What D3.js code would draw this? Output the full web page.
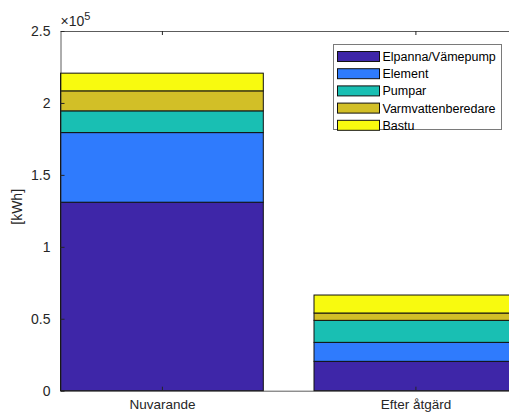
<!DOCTYPE html>
<html>
<head>
<meta charset="utf-8">
<script src="https://cdn.jsdelivr.net/npm/d3@7"></script>
<style>
  html, body { margin: 0; padding: 0; background: #fff; overflow: hidden; }
  svg { display: block; font-family: "Liberation Sans", Arial, sans-serif; }
</style>
</head>
<body>
<svg id="chart" width="509" height="412"></svg>
<script>
// Categories along the x axis
const categories = ["Nuvarande", "Efter åtgärd"];
// Stacked series, bottom to top
const seriesNames = ["Elpanna/Vämepump", "Element", "Pumpar", "Varmvattenberedare", "Bastu"];
const seriesColors = ["#3e26a8", "#2f7bfd", "#19bfb3", "#d2bf27", "#f8fa0f"];
// Energy use in kWh per series, one value per category
const elpanna = [131000, 20400];
const element = [48400, 13200];
const pumpar = [15100, 15300];
const varmvatten = [13900, 5100];
const bastu = [12300, 12500];
const yTicks = [0, 0.5, 1, 1.5, 2, 2.5];
const yExponent = 5;

const seriesValues = [elpanna, element, pumpar, varmvatten, bastu];
const rows = categories.map((c, i) => {
  const r = { category: c, pos: i + 1 };
  seriesNames.forEach((s, k) => { r[s] = seriesValues[k][i]; });
  return r;
});
const stacked = d3.stack().keys(seriesNames)(rows);

const svg = d3.select("#chart");
const plotLeft = 60.5, plotTop = 31, plotBottom = 390.7;
// Axis spans x = 0.6 .. 2.4 (bar width 0.8); the right edge runs off the page.
const x = d3.scaleLinear().domain([0.6, 2.4]).range([plotLeft, plotLeft + 1.8 * 253.5]);
const y = d3.scaleLinear().domain([0, 2.5e5]).range([plotBottom, plotTop]);
const barW = x(1.4) - x(0.6);

const axisColor = "#262626";
const textColor = "#262626";

// Stacked bars
svg.append("g").selectAll("g")
  .data(stacked)
  .join("g")
  .attr("fill", (d, i) => seriesColors[i])
  .selectAll("rect")
  .data(d => d)
  .join("rect")
  .attr("x", d => x(d.data.pos) - barW / 2)
  .attr("y", d => y(d[1]))
  .attr("width", barW)
  .attr("height", d => y(d[0]) - y(d[1]))
  .attr("stroke", "#111")
  .attr("stroke-width", 1);

// Y axis with ticks in units of 10^5
const yAxis = d3.axisLeft(y)
  .tickValues(yTicks.map(t => t * Math.pow(10, yExponent)))
  .tickFormat(v => d3.format("~g")(v / Math.pow(10, yExponent)))
  .tickSizeInner(-4).tickSizeOuter(0).tickPadding(10);
const gy = svg.append("g").attr("transform", `translate(${plotLeft},0)`).call(yAxis);
gy.attr("font-size", null).attr("font-family", null);
gy.select(".domain").attr("stroke", axisColor).attr("stroke-opacity", 0.75);
gy.selectAll(".tick line").attr("stroke", axisColor);
gy.selectAll(".tick text").attr("fill", textColor).style("font-size", "14px");

// Bottom x axis
const xAxis = d3.axisBottom(x)
  .tickValues(categories.map((c, i) => i + 1))
  .tickFormat((v) => categories[v - 1])
  .tickSizeInner(-4).tickSizeOuter(0).tickPadding(9);
const gx = svg.append("g").attr("transform", `translate(0,${plotBottom})`).call(xAxis);
gx.attr("font-size", null).attr("font-family", null);
gx.select(".domain").attr("stroke", axisColor).attr("stroke-opacity", 0.75);
gx.selectAll(".tick line").attr("stroke", axisColor);
gx.selectAll(".tick text").attr("fill", textColor).style("font-size", "13.5px");

// Top box line with ticks
const gt = svg.append("g").attr("transform", `translate(0,${plotTop})`)
  .call(d3.axisTop(x).tickValues([1, 2]).tickFormat("").tickSizeInner(-4).tickSizeOuter(0));
gt.select(".domain").attr("stroke", axisColor).attr("stroke-opacity", 0.75);
gt.selectAll(".tick line").attr("stroke", axisColor);

// Exponent label
const ex = svg.append("text").attr("x", plotLeft).attr("y", 26)
  .attr("fill", textColor).style("font-size", "14px");
ex.append("tspan").text("×10");
ex.append("tspan").style("font-size", "11px").attr("dy", -6).text(yExponent);

// Y axis title
svg.append("text")
  .attr("transform", `translate(22,${(plotTop + plotBottom) / 2 - 4}) rotate(-90)`)
  .attr("text-anchor", "middle")
  .attr("fill", textColor).style("font-size", "14px")
  .text("[kWh]");

// Legend
const lg = svg.append("g").attr("transform", "translate(333.5,44.5)");
lg.append("rect").attr("width", 168).attr("height", 85)
  .attr("fill", "#fff").attr("stroke", "#7a7a7a");
seriesNames.forEach((s, i) => {
  const cy = 12 + i * 17.2;
  lg.append("rect").attr("x", 4).attr("y", cy - 5).attr("width", 42).attr("height", 10)
    .attr("fill", seriesColors[i]).attr("stroke", "#111");
  lg.append("text").attr("x", 49).attr("y", cy).attr("dy", "0.36em")
    .attr("fill", "#000").style("font-size", "12.5px").text(s);
});
</script>
</body>
</html>
